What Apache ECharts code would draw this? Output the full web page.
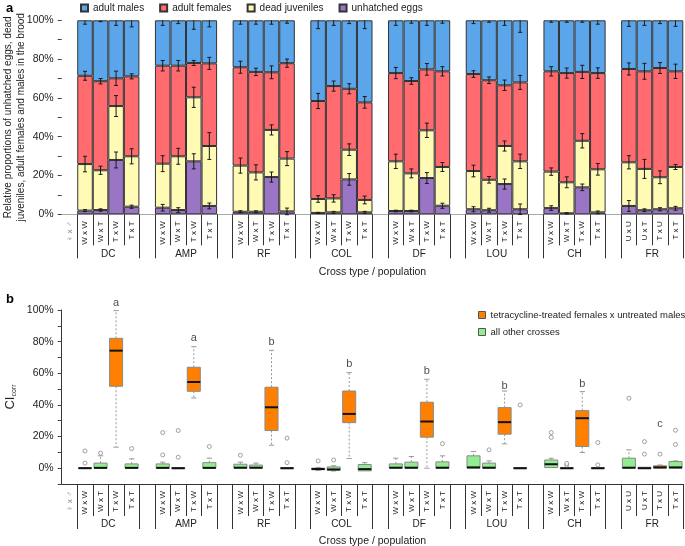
<!DOCTYPE html>
<html><head><meta charset="utf-8">
<script src="https://cdn.jsdelivr.net/npm/echarts@6/dist/echarts.min.js"></script>
<style>html,body{margin:0;padding:0;background:#fff}#c{width:685px;height:546px}</style>
</head><body><div id="c"></div>
<script>
// ---------- data ----------
const populations = ['DC','AMP','RF','COL','DF','LOU','CH','FR'];
const crossTypes = [
  ['W x W','W x T','T x W','T x T'],['W x W','W x T','T x W','T x T'],
  ['W x W','W x T','T x W','T x T'],['W x W','W x T','T x W','T x T'],
  ['W x W','W x T','T x W','T x T'],['W x W','W x T','T x W','T x T'],
  ['W x W','W x T','T x W','T x T'],['U x U','U x T','T x U','T x T']];
const sexLabel = '♀ x ♂';

// panel a: proportions (%) per bar, 4 bars per population
const unhatchedEggs = [1.9,2.2,28.0,3.9, 3.4,2.2,27.3,4.3, 1.3,1.3,19.2,1.5, 0.7,1.0,18.0,1.0, 1.7,1.7,18.7,4.4, 2.6,2.1,15.6,2.6, 3.2,0.5,13.9,1.0, 4.3,2.1,2.6,3.1];
const deadJuveniles = [24.0,20.5,27.8,26.0, 22.7,27.7,33.0,30.9, 23.8,20.3,24.3,27.2, 7.2,7.2,15.3,6.4, 25.6,19.4,24.6,20.0, 19.7,15.7,19.6,24.7, 18.8,16.0,24.0,22.2, 22.5,21.3,16.5,21.3];
const adultFemales = [45.5,45.9,14.3,41.2, 50.5,46.7,17.7,42.6, 50.7,51.8,29.7,49.2, 50.5,57.9,31.4,50.3, 45.5,47.6,31.4,49.3, 50.0,51.3,31.3,40.7, 51.7,56.3,35.5,49.6, 48.1,50.3,56.3,49.3];
const adultMales = [28.6,31.4,29.9,28.9, 23.4,23.4,22.0,22.2, 24.2,26.6,26.8,22.1, 41.6,33.9,35.3,42.3, 27.2,31.3,25.3,26.3, 27.7,30.9,33.5,32.0, 26.3,27.2,26.6,27.2, 25.1,26.3,24.6,26.3];
// error bar half-lengths (%)
const eggsErr = [0.5,0.6,4.1,0.8, 1.7,1.2,3.9,1.5, 0.5,0.5,2.6,1.7, 0.3,0.5,3.0,0.5, 0.4,0.4,2.8,1.3, 1.3,1.0,2.6,2.7, 1.2,0.3,1.7,0.7, 2.8,0.7,0.8,1.0];
const juvErr = [4.0,2.1,5.4,3.9, 4.1,4.1,5.2,6.9, 3.9,3.9,2.6,3.6, 1.7,1.9,3.0,2.0, 3.7,2.3,3.7,2.3, 3.0,1.7,2.6,3.7, 1.9,2.8,3.7,3.0, 3.4,4.9,3.3,1.3];
const femErr = [2.3,1.4,3.7,1.3, 2.7,2.7,1.3,3.1, 3.1,1.9,3.3,2.1, 3.9,2.6,2.6,3.0, 2.9,1.7,3.0,2.4, 1.7,1.7,2.7,3.6, 2.4,2.6,3.4,2.7, 3.1,4.1,2.8,3.7];
const malesErr = [2.0,0.7,2.6,3.4, 2.6,1.7,4.6,3.4, 2.0,2.0,2.0,1.5, 4.3,2.6,1.7,4.3, 2.6,1.5,2.6,1.5, 1.7,1.0,2.6,6.2, 1.0,1.0,1.0,2.0, 3.1,2.6,1.7,3.1];

// panel b: CIcorr boxes (%)
const boxLow    = [0,0,13.3,0, 0,0,44.4,0, 0,0,14.5,0, -1.5,-1.8,6.1,-2.0, 0,0,0,0, 0,0,15.4,0, 0.4,0,9.9,0, 0,-0.3,0,0];
const boxQ1     = [0,0,51.8,0, 0,0,48.6,0, 0,0,23.8,0, -1.0,-1.3,28.8,-1.7, 0,0,19.6,0, 0,0,21.5,0, 0.4,0,13.7,0, 0,-0.3,0,0];
const boxMedian = [0,0.2,74.3,0.2, 0.2,0,54.5,0.2, 0.3,0.3,38.5,0, -0.5,-0.8,34.3,-0.6, 0.3,0.3,29.5,0.3, 0.5,0.3,29.1,0, 2.5,0,31.6,0, 0.3,0,0.5,0.5];
const boxQ3     = [0.4,3.2,82.1,2.7, 2.7,0.3,63.8,3.5, 2.5,2.0,51.2,0.3, 0,0.8,48.8,2.3, 2.7,3.8,41.7,4.0, 7.8,3.2,38.3,0.3, 5.2,0.3,36.4,0.3, 6.3,0.6,1.5,4.2];
const boxHigh   = [0.4,7.8,99.6,5.9, 3.8,0.3,76.8,6.3, 3.8,3.2,74.5,0.3, 0.5,1.5,60.4,3.5, 6.3,7.4,56.2,7.8, 10.5,4.6,48.8,0.6, 6.3,0.3,48.4,0.5, 11.6,0.8,2.0,4.6];
const outliers  = [[3.2,10.9],[9.5],[],[12.4], [8.4,22.5],[6.9,23.8],[],[13.7], [8.2],[],[],[3.5,19.0], [4.6],[5.2],[],[], [],[],[],[15.5], [],[11.6],[],[40.0], [19.5,22.5],[2.0,3.0],[],[2.1,16.2], [44.2],[8.9,16.8],[8.9],[15.0,24.0]];
const treatedCross = 2; // position of the tetracycline-treated female cross in each group
const groupLetters = ['a','a','b','b','b','b','b','c'];
const letterHeights = [104.6,82.3,80.0,65.9,61.5,52.2,53.3,28.0];

// ---------- build ----------
const categories = [sexLabel];
populations.forEach((p,g)=>{ crossTypes[g].forEach(c=>categories.push(c)); if(g<populations.length-1) categories.push(''); });
const slotOf = k => 1 + Math.floor(k/4)*5 + (k%4);
function toSlots(arr){ const out = categories.map(()=>'-'); arr.forEach((v,k)=>{ out[slotOf(k)] = v; }); return out; }

const FONT = '"Liberation Sans", Arial, sans-serif';
const colors = {males:'#5BA6EA', females:'#FF6B6E', juv:'#FFFBB4', eggs:'#9A74C5', orange:'#FF8000', green:'#90EE90'};

const errData = [];
unhatchedEggs.forEach((v,k)=>{
  const s = slotOf(k);
  const t1 = v, t2 = v + deadJuveniles[k], t3 = t2 + adultFemales[k], t4 = t3 + adultMales[k];
  errData.push([s,t1,eggsErr[k],0],[s,t2,juvErr[k],0],[s,t3,femErr[k],0],[s,t4,malesErr[k],1]);
});

const orangeBoxes = [], greenBoxes = [], outlierData = [], letterData = [];
boxLow.forEach((v,k)=>{
  const item = [slotOf(k), boxLow[k], boxQ1[k], boxMedian[k], boxQ3[k], boxHigh[k]];
  if (k%4 === treatedCross) orangeBoxes.push(item); else greenBoxes.push(item);
  outliers[k].forEach(o=>outlierData.push([slotOf(k), o]));
});
groupLetters.forEach((l,g)=>letterData.push({name:l, value:[slotOf(g*4+treatedCross), letterHeights[g]]}));

function errRender(params, api){
  const x = api.value(0), y = api.value(1), e = api.value(2), half = api.value(3);
  const top = api.coord([x, half ? y : y + e]);
  const bot = api.coord([x, y - e]);
  const w = 2, st = {stroke:'#1a1a1a', lineWidth:1};
  const ch = [{type:'line', shape:{x1:top[0],y1:top[1],x2:bot[0],y2:bot[1]}, style:st},
              {type:'line', shape:{x1:bot[0]-w,y1:bot[1],x2:bot[0]+w,y2:bot[1]}, style:st}];
  if(!half) ch.push({type:'line', shape:{x1:top[0]-w,y1:top[1],x2:top[0]+w,y2:top[1]}, style:st});
  return {type:'group', children:ch};
}
function boxRender(fill){
  return function(params, api){
    const x = api.value(0);
    const lo = api.coord([x, api.value(1)]), q1 = api.coord([x, api.value(2)]),
          md = api.coord([x, api.value(3)]), q3 = api.coord([x, api.value(4)]),
          hi = api.coord([x, api.value(5)]);
    const band = api.size([1,0])[0];
    const bw = band*0.84, cw = band*0.34, cx = lo[0];
    const dash = {stroke:'#9a9a9a', lineWidth:1, lineDash:[2,2]};
    const cap = {stroke:'#9a9a9a', lineWidth:1};
    const ch = [];
    if (hi[1] < q3[1]-0.5) { ch.push({type:'line', shape:{x1:cx,y1:q3[1],x2:cx,y2:hi[1]}, style:dash});
      ch.push({type:'line', shape:{x1:cx-cw/2,y1:hi[1],x2:cx+cw/2,y2:hi[1]}, style:cap}); }
    if (lo[1] > q1[1]+0.5) { ch.push({type:'line', shape:{x1:cx,y1:q1[1],x2:cx,y2:lo[1]}, style:dash});
      ch.push({type:'line', shape:{x1:cx-cw/2,y1:lo[1],x2:cx+cw/2,y2:lo[1]}, style:cap}); }
    ch.push({type:'rect', shape:{x:cx-bw/2, y:q3[1], width:bw, height:Math.max(q1[1]-q3[1],1)}, style:{fill:fill, stroke:'#8a8a8a', lineWidth:1}});
    ch.push({type:'line', shape:{x1:cx-bw/2,y1:md[1],x2:cx+bw/2,y2:md[1]}, style:{stroke:'#111', lineWidth:2}});
    return {type:'group', children:ch};
  };
}

const innerTick = i => (i%5===2||i%5===3||i%5===4);
const outerTick = i => i>0 && (i%5===0||i%5===1);
const groupLabel = v => ((v-3)%5===0 && v>=3) ? populations[(v-3)/5] : '';

function xAxesFor(gi, tickIn, tickOut, lineColor, grpMargin){
  return [
    {type:'category', gridIndex:gi, position:'bottom', data:categories, boundaryGap:true,
     axisLine:{show:true, onZero:false, lineStyle:{color:lineColor, width:1}},
     axisTick:{show:true, alignWithLabel:false, interval:(i)=>innerTick(i), length:tickIn, lineStyle:{color:'#333'}},
     axisLabel:{show:true, interval:0, rotate:90, margin:7, fontSize:8, fontFamily:FONT, hideOverlap:false,
       color:(v,i)=> i===0 ? '#8a8a8a' : '#222'}},
    {type:'category', gridIndex:gi, position:'bottom', data:categories, boundaryGap:true,
     axisLine:{show:false, onZero:false},
     axisTick:{show:true, alignWithLabel:false, interval:(i)=>outerTick(i), length:tickOut, lineStyle:{color:'#333'}},
     axisLabel:{show:false}},
    {type:'value', gridIndex:gi, position:'bottom', min:0, max:40, interval:1,
     axisLine:{show:false, onZero:false}, axisTick:{show:false}, splitLine:{show:false},
     axisLabel:{show:true, margin:grpMargin, fontSize:10, fontFamily:FONT, color:'#222', formatter:groupLabel},
     name:'Cross type / population', nameLocation:'middle', nameGap:52, nameMoveOverlap:false,
     nameTextStyle:{fontSize:10.5, fontFamily:FONT, color:'#222'}}
  ];
}

const option = {
  animation:false,
  textStyle:{fontFamily:FONT},
  title:[
    {text:'a', left:1, top:-3, textStyle:{fontSize:13, fontWeight:'bold', color:'#000', fontFamily:FONT}},
    {text:'b', left:1, top:288, textStyle:{fontSize:13, fontWeight:'bold', color:'#000', fontFamily:FONT}}
  ],
  legend:[
    {left:80, top:3, padding:0, itemWidth:7, itemHeight:7, itemGap:15, icon:'rect',
     textStyle:{fontSize:10, color:'#222', fontFamily:FONT},
     data:['adult males','adult females','dead juveniles','unhatched eggs']},
    {left:478, top:309, padding:0, orient:'vertical', itemWidth:7, itemHeight:7, itemGap:5, icon:'rect',
     textStyle:{fontSize:9.5, color:'#222', fontFamily:FONT, lineHeight:12},
     data:[{name:'tetracycline-treated females x untreated males', itemStyle:{color:colors.orange, borderColor:'#555', borderWidth:1}},
           {name:'all other crosses', itemStyle:{color:colors.green, borderColor:'#555', borderWidth:1}}]}
  ],
  grid:[
    {left:61.7, width:621.6, top:20.3, height:194, containLabel:false, outerBoundsMode:'none'},
    {left:61.7, width:621.6, top:310, height:174, containLabel:false, outerBoundsMode:'none'}
  ],
  xAxis: [].concat(xAxesFor(0, 31, 44, '#aaa', 35), xAxesFor(1, 32, 45, '#333', 35)),
  yAxis:[
    {type:'value', gridIndex:0, min:0, max:100, interval:10,
     axisLine:{show:false, onZero:false}, axisTick:{show:true, length:4, lineStyle:{color:'#444'}},
     splitLine:{show:false},
     axisLabel:{margin:8, fontSize:10.5, color:'#222', fontFamily:FONT, formatter:v=> v%20===0 ? v+'%' : ''},
     name:'Relative proportions of unhatched eggs, dead\njuveniles, adult females and males in the brood',
     nameLocation:'middle', nameGap:34, nameRotate:90, nameMoveOverlap:false,
     nameTextStyle:{fontSize:10, lineHeight:13, color:'#222', fontFamily:FONT}},
    {type:'value', gridIndex:1, min:-10, max:100, interval:10,
     axisLine:{show:true, onZero:false, lineStyle:{color:'#333'}}, axisTick:{show:true, length:4, lineStyle:{color:'#444'}},
     splitLine:{show:false},
     axisLabel:{margin:8, fontSize:10.5, color:'#222', fontFamily:FONT, formatter:v=> (v>=0 && v%20===0) ? v+'%' : ''},
     name:'{a|CI}{b|corr}', nameLocation:'middle', nameGap:44, nameRotate:90, nameMoveOverlap:false,
     nameTextStyle:{rich:{a:{fontSize:13, color:'#222', fontFamily:FONT, lineHeight:14},
                          b:{fontSize:7, color:'#222', fontFamily:FONT, lineHeight:14, verticalAlign:'bottom', padding:[5,0,0,0]}}}}
  ],
  series:[
    {name:'unhatched eggs', type:'bar', stack:'a', xAxisIndex:0, yAxisIndex:0, barCategoryGap:'0%',
     data:toSlots(unhatchedEggs), itemStyle:{color:colors.eggs, borderColor:'#333', borderWidth:1}},
    {name:'dead juveniles', type:'bar', stack:'a', xAxisIndex:0, yAxisIndex:0, barCategoryGap:'0%',
     data:toSlots(deadJuveniles), itemStyle:{color:colors.juv, borderColor:'#333', borderWidth:1}},
    {name:'adult females', type:'bar', stack:'a', xAxisIndex:0, yAxisIndex:0, barCategoryGap:'0%',
     data:toSlots(adultFemales), itemStyle:{color:colors.females, borderColor:'#333', borderWidth:1}},
    {name:'adult males', type:'bar', stack:'a', xAxisIndex:0, yAxisIndex:0, barCategoryGap:'0%',
     data:toSlots(adultMales), itemStyle:{color:colors.males, borderColor:'#333', borderWidth:1}},
    {name:'errors', type:'custom', xAxisIndex:0, yAxisIndex:0, z:10, data:errData,
     encode:{x:0, y:1}, renderItem:errRender, silent:true},
    {name:'tetracycline-treated females x untreated males', type:'custom', xAxisIndex:3, yAxisIndex:1,
     itemStyle:{color:colors.orange}, data:orangeBoxes, encode:{x:0, y:[1,2,3,4,5]}, renderItem:boxRender(colors.orange), z:5},
    {name:'all other crosses', type:'custom', xAxisIndex:3, yAxisIndex:1,
     itemStyle:{color:colors.green}, data:greenBoxes, encode:{x:0, y:[1,2,3,4,5]}, renderItem:boxRender(colors.green), z:5},
    {name:'outliers', type:'scatter', xAxisIndex:3, yAxisIndex:1, data:outlierData, symbol:'circle', symbolSize:4,
     itemStyle:{color:'#fff', borderColor:'#8a8a8a', borderWidth:1}, z:6, silent:true},
    {name:'letters', type:'scatter', xAxisIndex:3, yAxisIndex:1, data:letterData, symbolSize:0, clip:false,
     label:{show:true, position:'inside', formatter:'{b}', fontSize:11, color:'#222', fontFamily:FONT}, z:7, silent:true}
  ]
};
const chart = echarts.init(document.getElementById('c'), null, {renderer:'canvas'});
chart.setOption(option);
</script>
</body></html>
